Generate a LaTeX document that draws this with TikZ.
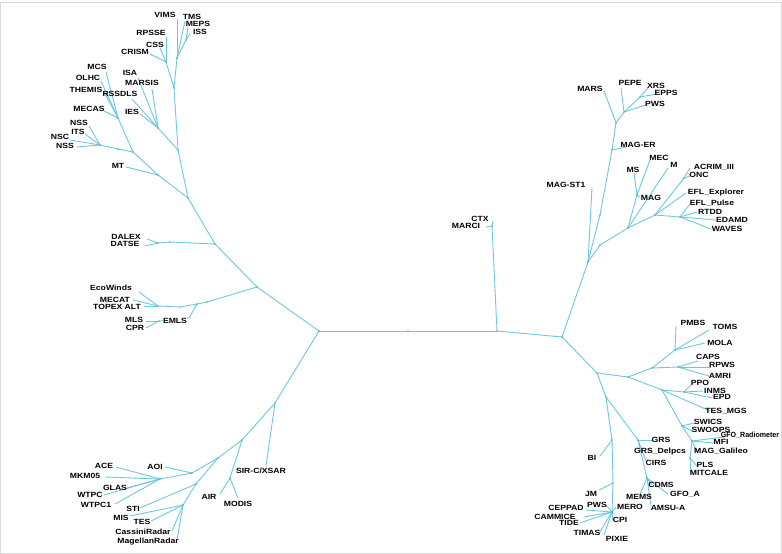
\documentclass[tikz,border=0pt]{standalone}
\usepackage{fontspec}
\usepackage{graphicx}
\setmainfont{Liberation Sans}
\newfontfamily\labfont[FakeStretch=1.15]{Liberation Sans}
\usetikzlibrary{backgrounds}
\definecolor{linec}{RGB}{110,200,228}
\definecolor{dotc}{RGB}{70,110,130}
\begin{document}
\begin{tikzpicture}[x=1pt,y=-1pt,
  ln/.style={draw=linec,line width=0.9pt},
  lab/.style={font=\labfont\bfseries\fontsize{7.5}{8}\selectfont,inner sep=0pt,text=black},
  nodedot/.style={fill=dotc}]
\useasboundingbox (0,0) rectangle (782,554);
\begin{pgfonlayer}{background}
\fill[white] (0,0) rectangle (782,554);
\draw[gray!30,line width=0.8pt] (0.5,2.5) rectangle (781.5,553.5);
\end{pgfonlayer}
% internal nodes
\foreach \n/\x/\y in {A1/188/198,B1/158/175,B2/133/152,B3t/118/149,B3/100/145,B5/118/118,
  C1/178/150,C3/158/128,C2/174/88,C4/177/58,C5/186/40,C6/166/62,
  D1/215/244,D2/170/242,D3/158/243,E1/257/287,Et/207/302,E2/197/304,E4/180/307,E3/158/306,
  F/189/318,G/159/321,R1/319/331,Rt/408/331,R2/497/331,Mc/492/226,R3/562/337,
  G1/275/403,G2/242/440,G3/230/478,G4/218/458,G5/192/473,G6/160/479,H1/196/484,H2/183/505,
  T1/588/262,T2/600/245,T3/600/215,T4/628/228,T5/637/195,T6/655/215,T7/684/178,T8/680/217,
  T9/612/150,T10/616/123,T11/624/112,T12/640/97,
  U1/597/373,V1/628/377,V2/652/368,V4/675/350,V5/678/367,V3/662/390,V6/684/392,V7/682/426,
  V8/692/441,V9/690/458,U2/606/397,W1/638/440,W2/647/478,X1/612/440,X2/613/483,X3/612/512}
  {\coordinate (\n) at (\x,\y);}
% internal edges
\foreach \a/\b in {A1/B1,B1/B2,B2/B3t,B3t/B3,B2/B5,A1/C1,C1/C3,C1/C2,C2/C4,C4/C5,C2/C6,
  A1/D1,D1/D2,D2/D3,D1/E1,E1/Et,Et/E2,E2/E4,E4/E3,E2/F,F/G,E1/R1,R1/Rt,Rt/R2,R2/Mc,R2/R3,
  R1/G1,G1/G2,G2/G3,G2/G4,G4/G5,G5/G6,G4/H1,H1/H2,
  R3/T1,T1/T2,T2/T4,T1/T3,T3/T9,T9/T10,T10/T11,T11/T12,T4/T5,T4/T6,T6/T7,T6/T8,
  R3/U1,U1/V1,V1/V2,V2/V4,V2/V5,V1/V3,V3/V6,V3/V7,V7/V8,V8/V9,U1/U2,U2/X1,U2/W1,W1/W2,X1/X2,X2/X3}
  {\draw[ln] (\a) -- (\b);}
\foreach \n in {A1,B1,B2,B3t,B3,B5,C1,C3,C2,C4,C5,C6,D1,D2,D3,E1,Et,E2,E4,E3,G,R1,Rt,R2,Mc,R3,
  G1,G2,G3,G4,G5,G6,H1,H2,T1,T2,T3,T4,T5,T6,T7,T8,T9,T10,T11,T12,
  U1,V1,V2,V4,V5,V3,V6,V7,V8,V9,U2,W1,W2,X1,X2,X3}
  {\fill[nodedot] (\n) circle (0.7pt);}
\node[lab,fill=white,inner sep=0.5pt] (F-l) at (175,321) {EMLS};
% leaves: name/parent/x/y/label x/label y/text
\foreach \n/\p/\x/\y/\lx/\ly/\t in {
  lVIMS/C4/177/19/165/15/VIMS, lTMS/C4/185/21/192/17/TMS, lMEPS/C5/188/27/198/24/MEPS,
  lISS/C5/190/34/200/32/ISS, lRPSSE/C6/166/37/151/33/RPSSE, lCSS/C6/160/48/155/45/CSS,
  lCRISM/C6/150/54/135/52/CRISM, lMCS/B5/106/72/97/67/MCS, lOLHC/B5/101/81/88/78/OLHC,
  lTHEMIS/B5/104/92/86/90/THEMIS, lMECAS/B5/104/111/89/109/MECAS, lISA/C3/138/78/130/73/ISA,
  lMARSIS/C3/152/89/142/83/MARSIS, lRSSDLS/C3/132/99/120/94/RSSDLS, lIES/C3/140/114/132/112/IES,
  lNSS/B3/89/126/79/123/NSS, lITS/B3/85/134/78/132/ITS, lNSC/B3/70/140/60/137/NSC,
  lNSSb/B3/77/147/65/146/NSS, lMT/B1/126/167/118/166/MT,
  lDALEX/D3/147/239/126/237/DALEX, lDATSE/D3/145/246/125/244/DATSE,
  lEco/E3/139/292/111/288/EcoWinds, lMECAT/E3/133/300/115/300/MECAT,
  lTOPEX/E3/144/306/117/307/TOPEX ALT, lMLS/G/146/321/134/320/MLS, lCPR/G/146/328/135/328/CPR,
  lMARCI/Mc/486/227/466/226/MARCI, lCTX/Mc/493/221/480/219/CTX,
  lSIRC/G1/266/466/261/471/{SIR-C/XSAR}, lAIR/G3/220/494/209/497/AIR, lMODIS/G3/238/498/238/504/MODIS,
  lAOI/G5/165/467/155/467/AOI, lACE/G6/116/467/104/466/ACE, lMKM/G6/105/477/85/476/MKM05,
  lGLAS/G6/127/488/115/488/GLAS, lWTPC/G6/104/495/90/495/WTPC, lWTPCa/G6/115/504/96/505/WTPC1,
  lSTI/H1/140/508/133/509/STI, lMIS/H2/130/516/121/518/MIS, lTESb/H2/151/521/142/522/TES,
  lCassini/H2/172/531/143/532/CassiniRadar, lMagellan/H2/177/540/148/542/MagellanRadar,
  lMAGST/T1/592/188/566/185/MAG-ST1, lMAGER/T9/626/147/638/145/MAG-ER, lMARS/T10/604/91/590/89/MARS,
  lPEPE/T11/621/88/630/83/PEPE, lPWS/T11/646/105/655/104/PWS, lXRS/T12/648/88/656/86/XRS,
  lEPPS/T12/657/94/666/93/EPPS, lMS/T5/634/173/633/170/MS, lMEC/T5/650/160/659/158/MEC,
  lMAG/T5/640/197/651/198/MAG, lM/T4/668/168/674/165/M,
  lACRIM/T7/690/168/714/167/ACRIM\_III, lONC/T7/690/176/699/175/ONC,
  lEFLE/T6/686/193/716/193/EFL\_Explorer, lEFLP/T8/690/204/712/203/EFL\_Pulse,
  lRTDD/T8/697/212/710/212/RTDD, lEDAMD/T8/716/220/732/220/EDAMD, lWAVES/T8/711/229/727/229/WAVES,
  lPMBS/V4/676/326/693/323/PMBS, lTOMS/V4/709/330/725/327/TOMS, lMOLA/V4/705/343/720/343/MOLA,
  lCAPS/V5/698/361/708/357/CAPS, lRPWS/V5/711/367/722/365/RPWS, lAMRI/V5/709/376/720/376/AMRI,
  lPPO/V6/691/385/700/383/PPO, lINMS/V6/703/391/715/391/INMS, lEPD/V6/712/398/722/397/EPD,
  lTESM/V3/710/411/726/411/TES\_MGS, lSWICS/V7/694/423/708/422/SWICS, lSWOOPS/V7/692/431/711/430/SWOOPS,
  lGFOR/V8/724/437/750/435/{\scalebox{0.82}[1]{GFO\_Radiometer}}, lMFI/V8/714/443/721/442/MFI,
  lMAGG/V8/697/452/721/451/MAG\_Galileo, lPLS/V9/697/466/705/465/PLS, lMIT/V9/691/474/709/473/MITCALE,
  lGRS/W1/652/440/661/440/GRS, lGRSD/W1/640/449/660/452/GRS\_Delpcs, lCIRS/W1/646/461/656/463/CIRS,
  lCDMS/W2/652/485/661/485/CDMS, lGFOA/W2/668/494/685/494/GFO\_A, lMEMS/W2/640/494/639/497/MEMS,
  lAMSU/W2/651/506/668/508/AMSU-A, lBI/X1/600/456/592/458/BI, lJM/X2/599/490/591/494/JM,
  lPWSb/X3/606/505/597/505/PWS, lMERO/X3/616/507/630/507/MERO, lCEPPAD/X3/586/510/566/508/CEPPAD,
  lCAMMICE/X3/584/517/555/517/CAMMICE, lTIDE/X3/580/523/569/523/TIDE, lTIMAS/X3/600/532/587/533/TIMAS,
  lPIXIE/X3/604/535/617/539/PIXIE, lCPI/X3/612/520/620/520/CPI}
{
  \coordinate (\n) at (\x,\y);
  \begin{pgfonlayer}{background}
  \draw[ln] (\p) -- (\n);
  \end{pgfonlayer}
  \node[lab] (\n-l) at (\lx,\ly) {\t};
}
\end{tikzpicture}
\end{document}
